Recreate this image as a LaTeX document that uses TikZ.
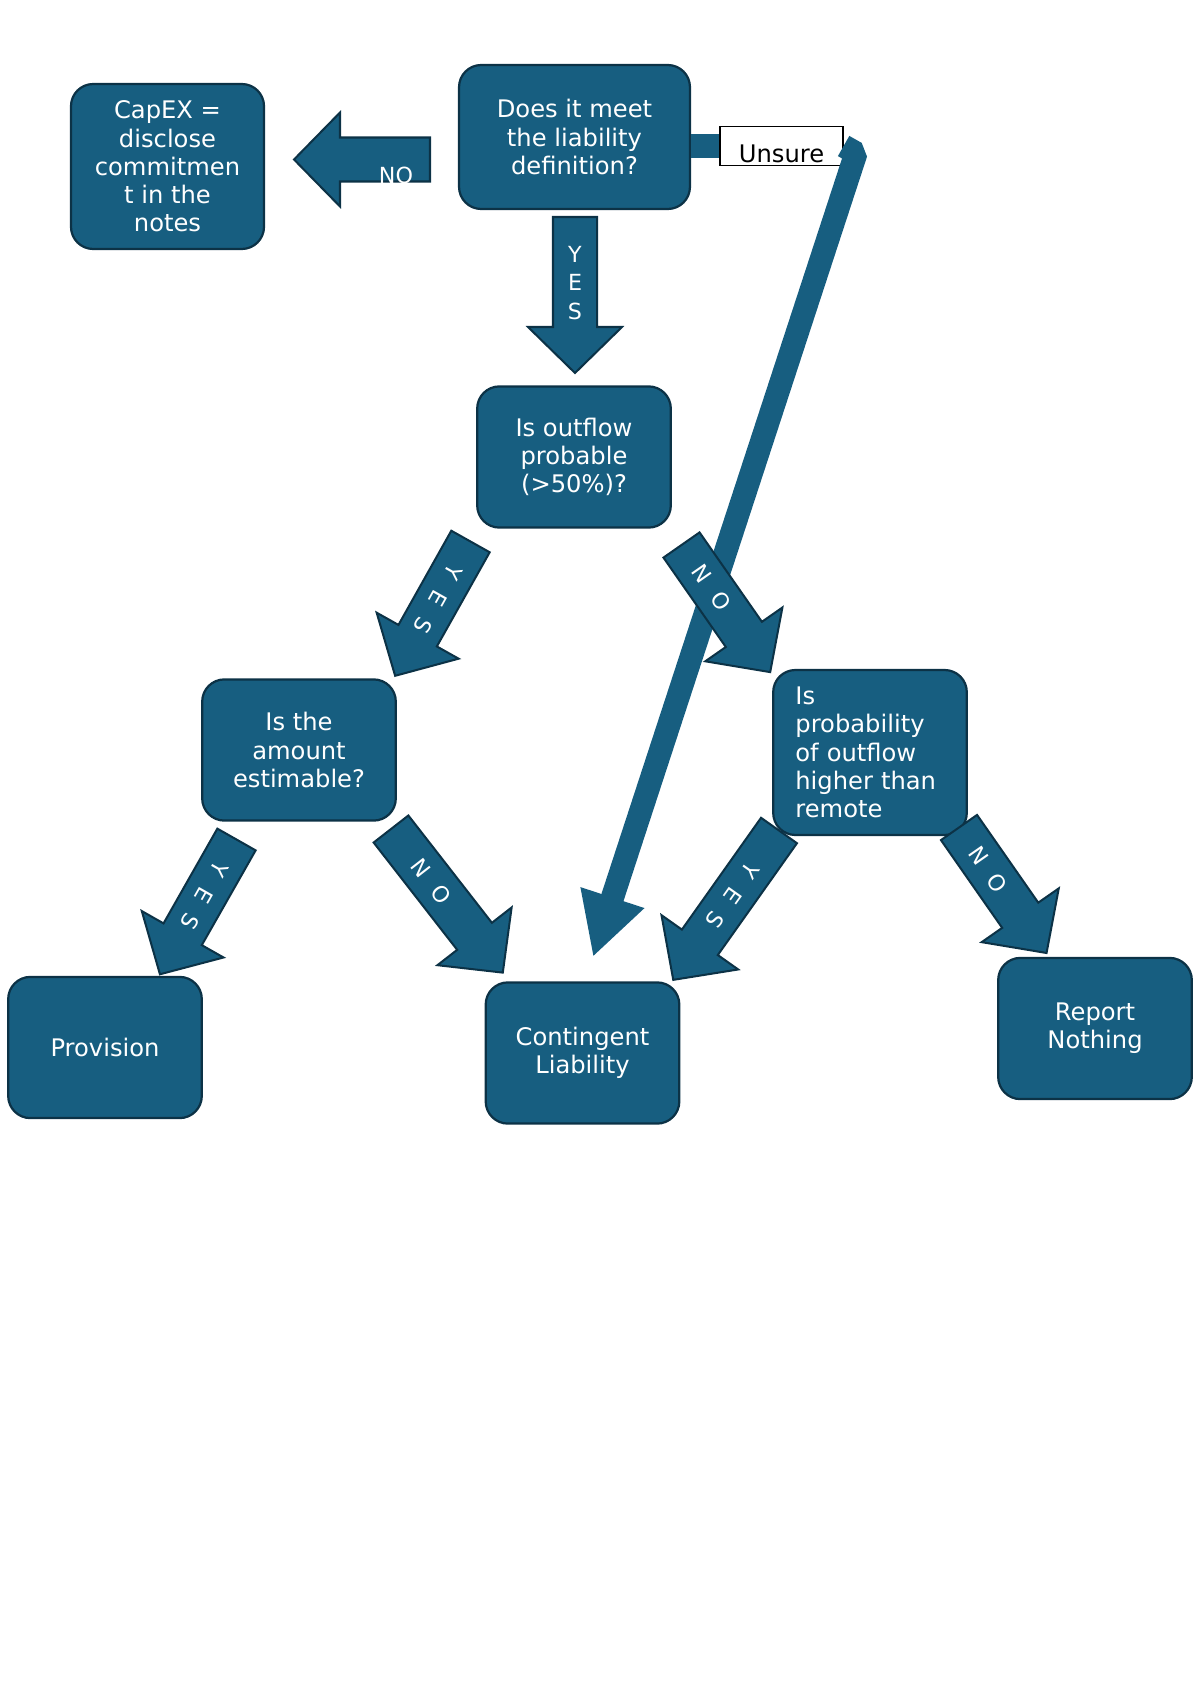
\documentclass[tikz,border=0pt]{standalone}
\usepackage{fontspec}
\setmainfont{DejaVu Sans}
\usetikzlibrary{arrows.meta}

\definecolor{boxblue}{RGB}{23,94,128}
\definecolor{boxline}{RGB}{12,50,70}

% block arrow pointing down in local coordinates: length, label pos, label
\tikzset{
  pics/blockarrow/.style n args={3}{code={
    \draw[arrbody] (-22,0) -- (-22,#1-46) -- (-47,#1-46) -- (0,#1)
      -- (47,#1-46) -- (22,#1-46) -- (22,0) -- cycle;
    \node[arrtext, rotate=-90, transform shape] at (0,#2) {#3};
  }}
}

\begin{document}
\begin{tikzpicture}[x=0.4958pt, y=-0.4958pt]
        \tikzstyle{box}=[draw=boxline, line width=1.1pt, fill=boxblue, rounded corners=11pt, text=white, align=center, font=\fontsize{12}{14}\selectfont, minimum width=96pt, minimum height=70pt, inner sep=2pt]
        \tikzstyle{arrbody}=[draw=boxline, line width=1pt, fill=boxblue]
        \tikzstyle{arrtext}=[text=white, font=\fontsize{11}{14}\selectfont, inner sep=0pt]
        \tikzstyle{ubar}=[draw=boxblue, line width=11.5pt, line join=bevel]
        \tikzstyle{unsureline}=[ubar, -{Triangle[width=31pt, length=31pt]}]

        \useasboundingbox (0,0) rectangle (1200,1696);

        \node[box, minimum width=114.5pt, minimum height=71.4pt] (q1) at (574.5,137) {Does it meet\\the liability\\definition?};
        \node[box, minimum width=95.7pt, minimum height=81.8pt] (capex) at (167.5,166.5) {CapEX =\\disclose\\commitmen\\t in the\\notes};
        \node[box] (q2) at (574,457) {Is outflow\\probable\\(>50\%)?};
        \node[box] (q3) at (299,750) {Is the\\amount\\estimable?};
        \node[box, minimum height=81.8pt, text width=74pt, align=left] (q4) at (870,752.5) {Is\\probability\\of outflow\\higher than\\remote};
        \node[box] (prov) at (105,1047.5) {Provision};
        \node[box] (cont) at (582.5,1053) {Contingent\\Liability};
        \node[box] (rep) at (1095,1028.5) {Report\\Nothing};

        % unsure route
        \node[draw=black, fill=white, line width=0.6pt, minimum width=61pt, text height=16pt, text depth=0pt, inner ysep=1.5pt, font=\fontsize{12}{14}\selectfont] (uns) at (781.5,146) {Unsure};
        \coordinate (bend) at (856,153);
        \coordinate (utip) at (593,957);
        \draw[ubar] (q1.east |- uns.west) -- (uns.west);
        \draw[unsureline] (uns.east) -- (bend) -- (utip);

        % yes / no arrows
        \pic[rotate=-90] at (430,159.5) {blockarrow={136}{0}{}};
        \node[arrtext] (noA) at (396,175) {NO};
        \pic at (575,217) {blockarrow={156}{0}{}};
        \node[arrtext, align=center] (yesB) at (575,283) {Y\\E\\S};
        \pic[rotate=-29.3] at (470.5,541.5) {blockarrow={154}{66}{Y\hspace{8pt}E\hspace{8pt}S}};
        \pic[rotate=34.9] at (681.5,545) {blockarrow={155}{52}{N\hspace{8pt}O}};
        \pic[rotate=-29.6] at (236.5,839.5) {blockarrow={155}{65}{Y\hspace{8pt}E\hspace{8pt}S}};
        \pic[rotate=37.9] at (391,829) {blockarrow={182}{66}{N\hspace{8pt}O}};
        \pic[rotate=-35.3] at (779,830.5) {blockarrow={183}{80}{Y\hspace{8pt}E\hspace{8pt}S}};
        \pic[rotate=34.9] at (959,827.5) {blockarrow={153}{51}{N\hspace{8pt}O}};
\end{tikzpicture}
\end{document}
